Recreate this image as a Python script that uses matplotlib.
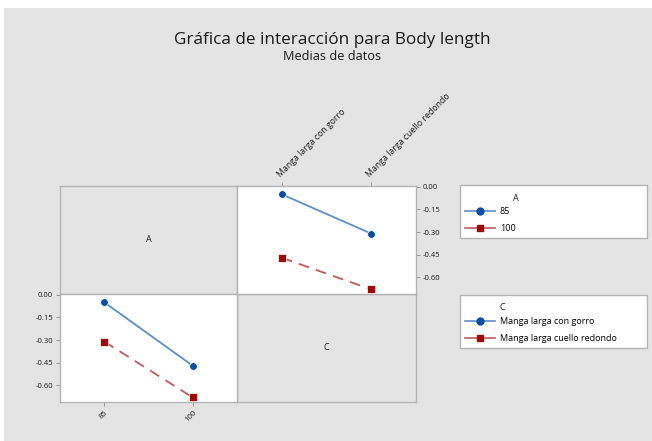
import matplotlib.pyplot as plt
from matplotlib.lines import Line2D
from matplotlib.patches import Rectangle

# cell means of Body length: rows = A level, cols = C level
a_levels = ['85', '100']
c_levels = ['Manga larga con gorro', 'Manga larga cuello redondo']
means = [[-0.05, -0.31],
         [-0.47, -0.68]]
yticks = [0.00, -0.15, -0.30, -0.45, -0.60]

W, H = 652, 441
BG = '#e4e4e4'
EDGE = '#b4b4b4'
TXT = '#1a1a1a'
BLUE_M, BLUE_L = '#0b4f9e', '#5a8fc8'
RED_M, RED_L = '#9e0a0a', '#c05a5a'

plt.rcParams['font.family'] = ['Open Sans', 'DejaVu Sans']

fig = plt.figure(figsize=(W / 100, H / 100), dpi=100, facecolor='white')
fig.patches.append(Rectangle((4 / W, 0), 1 - 4 / W, 1 - 8 / H, transform=fig.transFigure,
                             facecolor=BG, edgecolor='none', zorder=-5))


def box(x0, y0, x1, y1):
    return [x0 / W, 1 - y1 / H, (x1 - x0) / W, (y1 - y0) / H]


def panel(rect, fc):
    ax = fig.add_axes(box(*rect))
    ax.set_facecolor(fc)
    for s in ax.spines.values():
        s.set_color(EDGE)
        s.set_linewidth(1.0)
    ax.tick_params(colors='#888888', labelcolor=TXT, labelsize=5.5, length=3, width=0.6, pad=2)
    return ax


colx = [60, 237, 416]
rowy = [186, 294, 402]
ylim = (-0.71, 0.005)

# top-left label panel
ax_a = panel((colx[0], rowy[0], colx[1], rowy[1]), BG)
ax_a.set_xticks([]); ax_a.set_yticks([])
ax_a.text(0.5, 0.5, 'A', ha='center', va='center', fontsize=6.5, color=TXT, transform=ax_a.transAxes)

# bottom-right label panel
ax_c = panel((colx[1], rowy[1], colx[2], rowy[2]), BG)
ax_c.set_xticks([]); ax_c.set_yticks([])
ax_c.text(0.5, 0.5, 'C', ha='center', va='center', fontsize=6.5, color=TXT, transform=ax_c.transAxes)

# bottom-left: x = A, lines = C
ax_bl = panel((colx[0], rowy[1], colx[1], rowy[2]), 'white')
styles = [(BLUE_L, BLUE_M, 'o', '-'), (RED_L, RED_M, 's', (0, (6, 4)))]
for j in range(len(c_levels)):
    lc, mc, mk, ls = styles[j]
    ys = [means[i][j] for i in range(len(a_levels))]
    ax_bl.plot(range(len(a_levels)), ys, color=lc, ls=ls, lw=1.3, zorder=2)
    ax_bl.plot(range(len(a_levels)), ys, ls='none', marker=mk, ms=5.5, color=mc,
               mec='white', mew=0.5, zorder=3)
ax_bl.set_xlim(-0.5, 1.5)
ax_bl.set_ylim(*ylim)
ax_bl.set_xticks(range(len(a_levels)))
ax_bl.set_xticklabels(a_levels, rotation=45, ha='right', rotation_mode='anchor')
ax_bl.set_yticks(yticks)
ax_bl.set_yticklabels([f'{v:.2f}' for v in yticks])

# top-right: x = C, lines = A
ax_tr = panel((colx[1], rowy[0], colx[2], rowy[1]), 'white')
for i in range(len(a_levels)):
    lc, mc, mk, ls = styles[i]
    ax_tr.plot(range(len(c_levels)), means[i], color=lc, ls=ls, lw=1.3, zorder=2)
    ax_tr.plot(range(len(c_levels)), means[i], ls='none', marker=mk, ms=5.5, color=mc,
               mec='white', mew=0.5, zorder=3)
ax_tr.set_xlim(-0.5, 1.5)
ax_tr.set_ylim(*ylim)
ax_tr.xaxis.tick_top()
ax_tr.yaxis.tick_right()
ax_tr.set_xticks(range(len(c_levels)))
ax_tr.set_xticklabels(c_levels, rotation=45, ha='left', rotation_mode='anchor', fontsize=6.3)
ax_tr.set_yticks(yticks)
ax_tr.set_yticklabels([f'{v:.2f}' for v in yticks])

# titles
fig.text(332 / W, 1 - 40 / H, 'Gráfica de interacción para Body length', ha='center', va='center',
         fontsize=12.3, color=TXT)
fig.text(332 / W, 1 - 57 / H, 'Medias de datos', ha='center', va='center',
         fontsize=9.2, color=TXT)


# legends
def handles():
    return [Line2D([], [], color=BLUE_L, lw=1.2, marker='o', ms=5, mfc=BLUE_M, mec=BLUE_M),
            Line2D([], [], color=RED_L, lw=1.2, marker='s', ms=5, mfc=RED_M, mec=RED_M)]


def legend(labels, top, title, title_x):
    lg = fig.legend(handles(), labels, title=' ', loc='upper left',
                    bbox_to_anchor=(460 / W, 1 - top / H - 0.01, 187 / W, 0.01), mode='expand',
                    fontsize=6.5, title_fontsize=6.5, frameon=True, fancybox=False,
                    edgecolor=EDGE, facecolor='white', framealpha=1, borderaxespad=0,
                    handlelength=3.3, handletextpad=0.5, labelspacing=0.85, borderpad=0.6)
    lg.get_frame().set_linewidth(1.0)
    fig.text(title_x / W, 1 - (top + 13) / H, title, ha='center', va='center', fontsize=6.5,
             color=TXT, zorder=10)
    return lg


legend(a_levels, 185, 'A', 516)
legend(c_levels, 295, 'C', 502)

fig.savefig('out.png', dpi=100, facecolor=fig.get_facecolor())
